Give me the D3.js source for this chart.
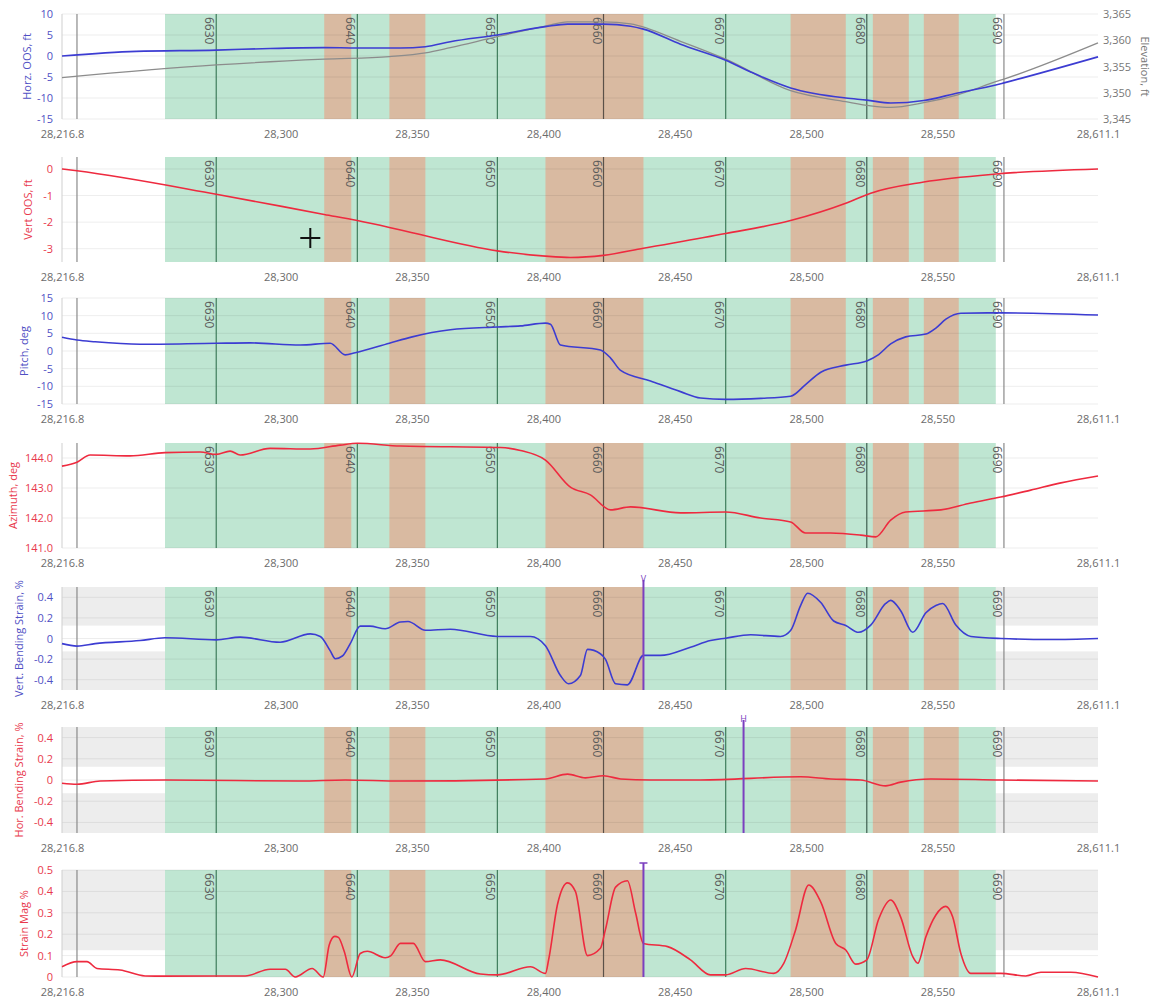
<!DOCTYPE html>
<html>
<head>
<meta charset="utf-8">
<script src="https://cdn.jsdelivr.net/npm/d3@7"></script>
<style>
  body { margin: 0; background: #fff; }
  svg { display: block; font-family: "Open Sans", sans-serif; }
</style>
</head>
<body>
<svg id="chart"></svg>
<script>
// station axis
const xTicks = [28216.8, 28300, 28350, 28400, 28450, 28500, 28550, 28611.1];

// joints and zones
const jointX = [28222.5, 28275.5, 28329.2, 28382.5, 28422.9, 28469.4, 28523.1, 28575.3];
const jointLabel = ["", "6630", "6640", "6650", "6660", "6670", "6680", "6690"];
const greenFrom = 28256.0, greenTo = 28572.2;
const brownFrom = [28316.6, 28341.4, 28400.8, 28494.1, 28525.4, 28544.8];
const brownTo = [28326.9, 28355.1, 28438.1, 28515.1, 28539.1, 28558.1];

// Horz OOS, ft
const hozX = [28216.8, 28245, 28275.5, 28296, 28316.6, 28329.2, 28345.6, 28355.1, 28364.6, 28382.5, 28400.8, 28409.2, 28422.9, 28433.2, 28438.1, 28452.2, 28469.4, 28478.9, 28494.1, 28515.1, 28523.1, 28532.2, 28544.8, 28557.7, 28572.2, 28575.3, 28611.1];
const hozY = [0, 1.1, 1.4, 1.8, 2.0, 1.9, 1.9, 2.2, 3.4, 5.0, 7.0, 7.6, 7.6, 7.1, 6.4, 2.8, -1.0, -3.8, -7.6, -10.0, -10.5, -11.2, -10.6, -8.8, -6.9, -6.4, -0.2];

// Elevation, ft (right axis)
const elevX = [28216.8, 28275.5, 28316.6, 28341.4, 28355.1, 28364.6, 28382.5, 28400.8, 28409.2, 28422.9, 28433.2, 28452.2, 28469.4, 28494.1, 28515.1, 28524.6, 28532.2, 28544.8, 28557.7, 28572.2, 28575.3, 28611.1];
const elevY = [3352.9, 3355.3, 3356.4, 3356.9, 3357.6, 3358.6, 3360.7, 3362.7, 3363.5, 3363.5, 3363.1, 3359.8, 3356.4, 3350.4, 3348.3, 3347.5, 3347.2, 3348.1, 3349.6, 3352.1, 3352.6, 3359.5];

// Vert OOS, ft
const vosX = [28216.8, 28222.5, 28275.5, 28316.6, 28329.2, 28341.4, 28350.1, 28382.5, 28400.8, 28410.3, 28422.9, 28438.1, 28469.4, 28494.1, 28515.1, 28524.6, 28544.8, 28572.2, 28611.1];
const vosY = [0, -0.07, -0.95, -1.71, -1.94, -2.2, -2.4, -3.08, -3.28, -3.33, -3.25, -2.98, -2.43, -1.94, -1.29, -0.91, -0.49, -0.19, 0];

// Pitch, deg
const pitchX = [28216.8, 28222.5, 28229.4, 28246.5, 28275.5, 28288.4, 28307.5, 28318.9, 28324.6, 28328.4, 28341.4, 28350.1, 28364.6, 28382.5, 28391.3, 28400.8, 28402.7, 28406.5, 28421.7, 28425.6, 28429.4, 28440.8, 28452.2, 28459.8, 28469.4, 28482.7, 28494.1, 28499.8, 28505.6, 28515.1, 28523.1, 28527.6, 28532.2, 28537.9, 28545.6, 28549.4, 28553.2, 28558.9, 28574.1, 28611.1];
const pitchY = [3.9, 3.1, 2.6, 1.9, 2.2, 2.3, 1.7, 2.2, -1.1, -0.5, 2.2, 4.0, 6.0, 6.8, 7.1, 7.9, 7.6, 1.7, 0.3, -2.0, -5.5, -8.5, -11.5, -13.3, -13.7, -13.4, -12.8, -9.5, -6.0, -4.0, -2.8, -1.0, 2.0, 4.0, 4.8, 6.5, 9.0, 10.7, 10.8, 10.2];

// Azimuth, deg
const aziX = [28216.8, 28222.5, 28227.5, 28242.7, 28256.0, 28269.4, 28275.5, 28280.8, 28284.6, 28296.0, 28311.3, 28322.7, 28329.2, 28345.6, 28383.7, 28391.3, 28400.8, 28410.3, 28417.9, 28425.6, 28433.2, 28452.2, 28469.4, 28482.7, 28494.1, 28499.8, 28509.4, 28520.8, 28526.5, 28532.2, 28537.9, 28551.3, 28562.7, 28574.1, 28585.5, 28597.0, 28611.1];
const aziY = [143.73, 143.86, 144.1, 144.07, 144.18, 144.2, 144.12, 144.23, 144.1, 144.32, 144.3, 144.43, 144.49, 144.4, 144.35, 144.25, 143.93, 143.03, 142.77, 142.27, 142.37, 142.17, 142.2, 142.0, 141.87, 141.5, 141.5, 141.43, 141.37, 141.93, 142.2, 142.27, 142.5, 142.7, 142.93, 143.17, 143.4];

// Vert. bending strain, %
const vbsX = [28216.8, 28222.5, 28229.4, 28246.5, 28256.0, 28275.5, 28284.6, 28299.8, 28311.3, 28315.1, 28318.9, 28320.8, 28323.5, 28326.5, 28330.3, 28334.0, 28339.8, 28345.6, 28348.5, 28355.1, 28364.6, 28382.5, 28395.1, 28400.8, 28406.5, 28409.6, 28414.1, 28416.8, 28421.7, 28423.6, 28427.5, 28432.0, 28438.1, 28444.6, 28456.0, 28463.6, 28469.4, 28478.9, 28490.3, 28494.1, 28497.9, 28500.6, 28505.6, 28510.5, 28515.1, 28520.0, 28524.6, 28530.3, 28532.2, 28536.0, 28540.6, 28545.6, 28549.4, 28552.0, 28557.0, 28562.7, 28574.1, 28593.2, 28611.1];
const vbsY = [-0.05, -0.074, -0.05, -0.02, 0.007, -0.013, 0.013, -0.036, 0.045, 0.02, -0.12, -0.196, -0.17, -0.05, 0.12, 0.12, 0.094, 0.16, 0.165, 0.08, 0.09, 0.02, 0.02, -0.07, -0.36, -0.44, -0.36, -0.106, -0.148, -0.2, -0.44, -0.45, -0.164, -0.164, -0.084, -0.02, 0.003, 0.036, 0.02, 0.077, 0.32, 0.44, 0.35, 0.17, 0.126, 0.06, 0.13, 0.34, 0.37, 0.27, 0.06, 0.25, 0.32, 0.34, 0.13, 0.02, 0, -0.01, 0];

// Hor. bending strain, %
const hbsX = [28216.8, 28222.5, 28231.3, 28256.0, 28307.5, 28324.6, 28345.6, 28400.8, 28409.2, 28416.0, 28422.9, 28429.4, 28440.8, 28459.8, 28497.9, 28509.4, 28520.8, 28530.3, 28536.0, 28547.5, 28574.1, 28611.1];
const hbsY = [-0.03, -0.04, -0.01, 0, -0.01, 0, -0.01, 0.01, 0.055, 0.02, 0.04, 0.01, 0, 0, 0.03, 0.01, 0, -0.055, -0.02, 0.01, 0, -0.01];

// Strain mag, %
const smX = [28216.8, 28222.5, 28226.3, 28230.1, 28238.9, 28248.4, 28256.0, 28275.5, 28286.5, 28296.0, 28301.8, 28305.6, 28312.0, 28316.2, 28318.5, 28320.6, 28322.0, 28324.2, 28327.1, 28330.3, 28333.0, 28339.8, 28342.0, 28345.6, 28350.5, 28355.1, 28360.8, 28376.0, 28382.5, 28395.1, 28400.8, 28402.0, 28405.4, 28409.2, 28412.2, 28416.8, 28421.7, 28423.6, 28427.5, 28432.0, 28435.1, 28438.1, 28447.3, 28456.0, 28463.6, 28469.4, 28477.0, 28487.7, 28491.5, 28496.0, 28501.0, 28505.6, 28511.3, 28515.1, 28518.9, 28523.1, 28527.6, 28532.2, 28536.0, 28540.6, 28542.5, 28545.6, 28549.4, 28553.2, 28555.8, 28558.9, 28562.7, 28574.1, 28583.6, 28589.4, 28600.8, 28611.1];
const smY = [0.048, 0.072, 0.072, 0.04, 0.033, 0.005, 0.004, 0.005, 0.005, 0.036, 0.036, 0, 0.04, 0, 0.15, 0.19, 0.185, 0.12, 0, 0.11, 0.12, 0.09, 0.1, 0.157, 0.157, 0.072, 0.08, 0.014, 0.01, 0.048, 0.017, 0.08, 0.34, 0.44, 0.4, 0.1, 0.134, 0.22, 0.42, 0.45, 0.3, 0.157, 0.142, 0.08, 0.01, 0.01, 0.04, 0.017, 0.064, 0.22, 0.43, 0.35, 0.157, 0.126, 0.06, 0.08, 0.27, 0.36, 0.28, 0.095, 0.064, 0.188, 0.29, 0.33, 0.28, 0.11, 0.017, 0.017, 0.005, 0.022, 0.022, 0];

// markers
const vMarkerX = 28438.1, hMarkerX = 28476.2, tMarkerX = 28438.1;
const cursorAt = [28311.3, -2.6];

const W = 1157, H = 1004;
const left = 62, right = 1098;
const BLUE = "#3c3cd2", BLUE_TXT = "#5050c4";
const RED = "#ee2a3f", RED_TXT = "#e8394d";
const PURPLE = "#7b3fbf";

const svg = d3.select("#chart").attr("width", W).attr("height", H);
const x = d3.scaleLinear().domain([28216.8, 28611.1]).range([left, right]);

const fmtDec = d => String(+d.toFixed(1));
const fmtOne = d => d.toFixed(1);

const zip = (xs, ys) => xs.map((v, i) => [v, ys[i]]);

const panels = [
  { top: 14, bottom: 119, domain: [-15, 10], ticks: [-15, -10, -5, 0, 5, 10], fmt: fmtDec, tx: 31,
    title: "Horz. OOS, ft", txt: BLUE_TXT, data: zip(hozX, hozY), color: BLUE, elev: true },
  { top: 157, bottom: 262, domain: [-3.5, 0.45], ticks: [-3, -2, -1, 0], fmt: fmtDec, tx: 32,
    title: "Vert OOS, ft", txt: RED_TXT, data: zip(vosX, vosY), color: RED, cursor: true },
  { top: 298, bottom: 404, domain: [-15, 15], ticks: [-15, -10, -5, 0, 5, 10, 15], fmt: fmtDec, tx: 28,
    title: "Pitch, deg", txt: BLUE_TXT, data: zip(pitchX, pitchY), color: BLUE },
  { top: 443, bottom: 548, domain: [141, 144.5], ticks: [141, 142, 143, 144], fmt: fmtOne, tx: 17,
    title: "Azimuth, deg", txt: RED_TXT, data: zip(aziX, aziY), color: RED },
  { top: 587, bottom: 690, domain: [-0.5, 0.5], ticks: [-0.4, -0.2, 0, 0.2, 0.4], fmt: fmtDec, tx: 23,
    title: "Vert. Bending Strain, %", txt: BLUE_TXT, data: zip(vbsX, vbsY), color: BLUE,
    bands: [[0.125, 0.5], [-0.5, -0.125]], marker: { at: vMarkerX, label: "V" } },
  { top: 727, bottom: 833, domain: [-0.5, 0.5], ticks: [-0.4, -0.2, 0, 0.2, 0.4], fmt: fmtDec, tx: 23,
    title: "Hor. Bending Strain, %", txt: RED_TXT, data: zip(hbsX, hbsY), color: RED,
    bands: [[0.125, 0.5], [-0.5, -0.125]], marker: { at: hMarkerX, label: "H" } },
  { top: 870, bottom: 977, domain: [0, 0.5], ticks: [0, 0.1, 0.2, 0.3, 0.4, 0.5], fmt: fmtDec, tx: 28,
    title: "Strain Mag %", txt: RED_TXT, data: zip(smX, smY), color: RED,
    bands: [[0.125, 0.5]], marker: { at: tMarkerX, label: "T" } }
];

const jointColor = i => (i === 0 || i === 7) ? "#8a8a8a" : (i === 4 ? "#5b5148" : (i === 6 ? "#3f5f50" : "#3f7d5c"));

panels.forEach(p => {
  const y = d3.scaleLinear().domain(p.domain).range([p.bottom, p.top]);
  const g = svg.append("g");
  const h = p.bottom - p.top;

  // gray bands
  (p.bands || []).forEach(b => {
    g.append("rect").attr("x", left).attr("width", right - left)
      .attr("y", y(b[1])).attr("height", y(b[0]) - y(b[1]))
      .attr("fill", "#ededed");
  });

  // green / brown zones
  g.append("rect").attr("x", x(greenFrom)).attr("width", x(greenTo) - x(greenFrom))
    .attr("y", p.top).attr("height", h).attr("fill", "#bfe6d2");
  g.selectAll("rect.brown").data(brownFrom).join("rect").attr("class", "brown")
    .attr("x", d => x(d)).attr("width", (d, i) => x(brownTo[i]) - x(d))
    .attr("y", p.top).attr("height", h).attr("fill", "#d9baa1");

  // grid
  g.selectAll("line.grid").data(p.ticks).join("line").attr("class", "grid")
    .attr("x1", left).attr("x2", right).attr("y1", d => y(d)).attr("y2", d => y(d))
    .attr("stroke", "#000").attr("stroke-opacity", 0.07);

  g.append("line").attr("x1", left).attr("x2", left).attr("y1", p.top).attr("y2", p.bottom)
    .attr("stroke", "#cfcfcf");

  // joints
  g.selectAll("line.joint").data(jointX).join("line").attr("class", "joint")
    .attr("x1", d => x(d)).attr("x2", d => x(d)).attr("y1", p.top).attr("y2", p.bottom)
    .attr("stroke", (d, i) => jointColor(i)).attr("stroke-width", 1.2);
  g.selectAll("text.joint").data(jointX).join("text").attr("class", "joint")
    .attr("transform", d => `translate(${x(d) - 11},${p.top + 3}) rotate(90)`)
    .attr("font-size", 12).attr("fill", "#5a5a5a")
    .text((d, i) => jointLabel[i]);

  // left axis
  const ax = g.append("g").attr("transform", `translate(${left},0)`)
    .call(d3.axisLeft(y).tickValues(p.ticks).tickFormat(p.fmt).tickSize(0).tickPadding(9));
  ax.select(".domain").remove();
  ax.selectAll("text").attr("fill", p.txt).attr("font-size", 11).attr("font-family", "Open Sans");

  // bottom labels
  const bx = g.append("g").attr("transform", `translate(0,${p.bottom})`)
    .call(d3.axisBottom(x).tickValues(xTicks).tickFormat(d3.format(",")).tickSize(0).tickPadding(11));
  bx.select(".domain").remove();
  bx.selectAll("text").attr("fill", "#6b6b6b").attr("font-size", 11).attr("font-family", "Open Sans");

  // title
  g.append("text")
    .attr("transform", `translate(${p.tx},${(p.top + p.bottom) / 2}) rotate(-90)`)
    .attr("text-anchor", "middle").attr("font-size", 11).attr("fill", p.txt)
    .text(p.title);

  const line = d3.line().x(d => x(d[0])).y(d => y(d[1])).curve(d3.curveMonotoneX);

  if (p.elev) {
    const ye = d3.scaleLinear().domain([3345, 3365]).range([p.bottom, p.top]);
    g.append("path").datum(zip(elevX, elevY))
      .attr("d", d3.line().x(d => x(d[0])).y(d => ye(d[1])).curve(d3.curveMonotoneX))
      .attr("fill", "none").attr("stroke", "#8c8c8c").attr("stroke-width", 1.3);
    const ra = g.append("g").attr("transform", `translate(${right},0)`)
      .call(d3.axisRight(ye).tickValues([3345, 3350, 3355, 3360, 3365]).tickFormat(d3.format(",")).tickSize(0).tickPadding(5));
    ra.select(".domain").remove();
    ra.selectAll("text").attr("fill", "#777").attr("font-size", 11).attr("font-family", "Open Sans");
    g.append("text")
      .attr("transform", `translate(1141,${(p.top + p.bottom) / 2}) rotate(90)`)
      .attr("text-anchor", "middle").attr("font-size", 11).attr("fill", "#777")
      .text("Elevation, ft");
  }

  g.append("path").datum(p.data).attr("d", line)
    .attr("fill", "none").attr("stroke", p.color).attr("stroke-width", 1.6);

  if (p.marker) {
    const mx = x(p.marker.at);
    g.append("line").attr("x1", mx).attr("x2", mx).attr("y1", p.top - 7).attr("y2", p.bottom)
      .attr("stroke", PURPLE).attr("stroke-width", 2);
    if (p.marker.label === "T") {
      g.append("line").attr("x1", mx - 4).attr("x2", mx + 4).attr("y1", p.top - 7).attr("y2", p.top - 7)
        .attr("stroke", PURPLE).attr("stroke-width", 1.5);
    } else {
      g.append("text").attr("x", mx).attr("y", p.top - 5).attr("text-anchor", "middle")
        .attr("font-size", 9).attr("fill", PURPLE).text(p.marker.label);
    }
  }

  if (p.cursor) {
    const cx = x(cursorAt[0]), cy = y(cursorAt[1]);
    g.append("path").attr("d", `M${cx - 10},${cy}H${cx + 10}M${cx},${cy - 10}V${cy + 10}`)
      .attr("stroke", "#111").attr("stroke-width", 2);
  }
});
</script>
</body>
</html>
